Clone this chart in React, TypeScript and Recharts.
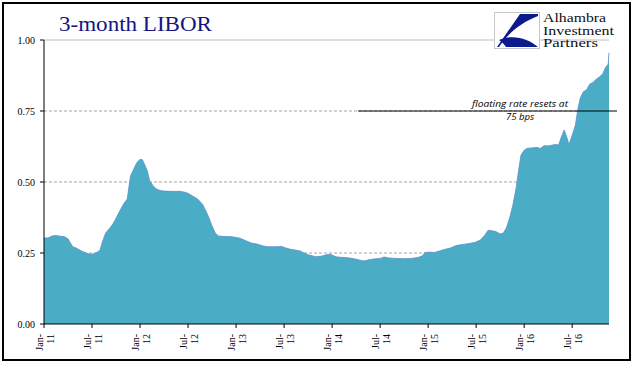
import React from "react";
import { AreaChart, Area, XAxis, YAxis, CartesianGrid, ReferenceLine } from "recharts";

// months elapsed since 1 Jan 2011
const months: number[] = [
  0, 0.5, 1.0, 1.5, 2.0, 2.5, 3.0, 3.3, 3.6, 4.0, 4.5, 5.0, 5.5, 6.0, 6.5, 7.0, 7.3, 7.7, 8.2, 8.6,
  9.0, 9.5, 10.0, 10.4, 10.6, 10.8, 11.2, 11.6, 12.0, 12.3, 12.6, 12.9, 13.2, 13.6, 14.0, 14.5, 15.0, 16.0, 17.0, 17.6,
  18.0, 18.6, 19.2, 19.8, 20.2, 20.6, 21.0, 21.4, 21.8, 22.5, 23.0, 23.5, 24.0, 24.5, 25.0, 25.5, 26.0, 26.6, 27.0, 27.5,
  28.0, 29.0, 29.7, 30.2, 30.8, 31.5, 32.0, 32.5, 33.0, 33.5, 34.0, 34.7, 35.3, 35.8, 36.2, 36.6, 37.5, 38.3, 39.0, 39.6,
  40.0, 40.6, 41.2, 42.0, 42.5, 42.8, 43.2, 44.0, 45.0, 46.0, 46.8, 47.3, 47.6, 48.2, 48.8, 49.5, 50.0, 50.8, 51.5, 52.3,
  53.0, 53.8, 54.5, 55.0, 55.5, 56.0, 56.5, 57.0, 57.4, 57.8, 58.2, 58.6, 59.0, 59.3, 59.6, 60.0, 60.4, 61.0, 61.6, 62.0,
  62.5, 63.0, 63.5, 64.0, 64.3, 64.6, 65.0, 65.3, 65.6, 66.0, 66.4, 66.7, 67.0, 67.4, 67.8, 68.2, 68.6, 69.0, 69.4, 69.8,
  70.2, 70.5, 70.6,
];

// 3-month LIBOR, percent
const libor: number[] = [
  0.303, 0.303, 0.310, 0.312, 0.309, 0.308, 0.300, 0.285, 0.272, 0.268, 0.260, 0.253, 0.247, 0.246, 0.250, 0.260, 0.290, 0.320, 0.337, 0.352,
  0.372, 0.400, 0.425, 0.440, 0.480, 0.520, 0.545, 0.568, 0.580, 0.578, 0.560, 0.540, 0.505, 0.488, 0.476, 0.470, 0.468, 0.467, 0.467, 0.464,
  0.460, 0.450, 0.440, 0.422, 0.400, 0.375, 0.345, 0.320, 0.310, 0.308, 0.308, 0.307, 0.305, 0.302, 0.296, 0.290, 0.284, 0.282, 0.278, 0.274,
  0.272, 0.272, 0.273, 0.268, 0.263, 0.260, 0.257, 0.250, 0.244, 0.240, 0.237, 0.239, 0.244, 0.246, 0.240, 0.236, 0.234, 0.232, 0.228, 0.224,
  0.222, 0.226, 0.229, 0.231, 0.236, 0.234, 0.232, 0.231, 0.230, 0.231, 0.235, 0.240, 0.252, 0.253, 0.252, 0.258, 0.262, 0.268, 0.276, 0.280,
  0.283, 0.287, 0.295, 0.310, 0.330, 0.328, 0.325, 0.317, 0.320, 0.340, 0.375, 0.420, 0.480, 0.540, 0.595, 0.612, 0.619, 0.620, 0.622, 0.618,
  0.628, 0.627, 0.630, 0.632, 0.630, 0.655, 0.683, 0.660, 0.632, 0.665, 0.700, 0.755, 0.795, 0.818, 0.825, 0.845, 0.850, 0.862, 0.870, 0.880,
  0.905, 0.915, 0.955,
];

const tickMonths: number[] = [0, 6, 12, 18, 24, 30, 36, 42, 48, 54, 60, 66];
const tickMonthNames: string[] = ["Jan-", "Jul-", "Jan-", "Jul-", "Jan-", "Jul-", "Jan-", "Jul-", "Jan-", "Jul-", "Jan-", "Jul-"];
const tickYears: string[] = ["11", "11", "12", "12", "13", "13", "14", "14", "15", "15", "16", "16"];
const yTicks: number[] = [0, 0.25, 0.5, 0.75, 1.0];
const dashedGrid: number[] = [0.25, 0.5, 0.75];

const data = months.map((m, i) => ({ m, v: libor[i] }));

const SERIF = "'Liberation Serif', 'Times New Roman', serif";

const XTick = (props: any) => {
  const { x, y, payload } = props;
  const idx = tickMonths.indexOf(payload.value);
  return (
    <g transform={`translate(${x},${y})`}>
      <text transform="rotate(-90)" textAnchor="end" fontFamily={SERIF} fontSize={10} fill="#000">
        <tspan x={-4} y={-1}>{tickMonthNames[idx]}</tspan>
        <tspan x={-4} y={10}>{tickYears[idx]}</tspan>
      </text>
    </g>
  );
};

export default function App() {
  return (
    <div style={{ position: "absolute", left: 0, top: 0, width: 641, height: 375, background: "#fff" }}>
      <AreaChart width={641} height={375} data={data} margin={{ top: 40, right: 32, bottom: 21, left: 0 }}>
        <CartesianGrid vertical={false} stroke="#a6a6a6" strokeDasharray="3 2" horizontalValues={dashedGrid} />
        <XAxis
          type="number"
          dataKey="m"
          domain={[0, 70.6]}
          ticks={tickMonths}
          tick={<XTick />}
          height={30}
          stroke="#000"
          tickSize={4}
          interval={0}
        />
        <YAxis
          type="number"
          domain={[0, 1]}
          ticks={yTicks}
          width={44}
          stroke="#000"
          tickSize={4}
          tickMargin={5}
          tickFormatter={(v: number) => v.toFixed(2)}
          tick={{ fontFamily: SERIF, fontSize: 10, fill: "#000" }}
        />
        <ReferenceLine y={1} stroke="#bfbfbf" strokeWidth={1} />
        <Area
          type="linear"
          dataKey="v"
          stroke="#5b8fd0"
          strokeWidth={0.8}
          fill="#4bacc6"
          fillOpacity={1}
          isAnimationActive={false}
        />
        <ReferenceLine
          segment={[{ x: 39.25, y: 0.75 }, { x: 71.6, y: 0.75 }]}
          ifOverflow="visible"
          stroke="#000"
          strokeWidth={1}
        />
      </AreaChart>
      <svg width={641} height={375} style={{ position: "absolute", left: 0, top: 0, pointerEvents: "none" }}>
        <rect x={3} y={3} width={627} height={357} fill="none" stroke="#000" strokeWidth={2} />
        <text x={59} y={31} fontFamily={SERIF} fontSize={22} fill="#141483" textLength={153} lengthAdjust="spacingAndGlyphs">
          3-month LIBOR
        </text>
        <g>
          <rect x={494.5} y={12.5} width={45} height={36} fill="#fff" stroke="#c8c8c8" strokeWidth={1} />
          <path d="M520,14 L538,14 L538,16 C522,22 508,33 499,47 L497,47 Z" fill="#0c1a8c" />
          <path d="M499,40 C512,34 528,38 538,47 L506,47 C504,44 502,42 499,40 Z" fill="#0c1a8c" />
          <text x={543} y={22} fontFamily={SERIF} fontSize={12} fill="#111" textLength={63} lengthAdjust="spacingAndGlyphs">Alhambra</text>
          <text x={543} y={34.5} fontFamily={SERIF} fontSize={12} fill="#111" textLength={71} lengthAdjust="spacingAndGlyphs">Investment</text>
          <text x={543} y={47} fontFamily={SERIF} fontSize={12} fill="#111" textLength={55} lengthAdjust="spacingAndGlyphs">Partners</text>
        </g>
        <text x={520} y={107} textAnchor="middle" fontFamily="'Open Sans', 'Liberation Sans', sans-serif" fontStyle="italic" fontSize={9.5} fill="#000" textLength={96} lengthAdjust="spacingAndGlyphs">
          floating rate resets at
        </text>
        <text x={520} y={120} textAnchor="middle" fontFamily="'Open Sans', 'Liberation Sans', sans-serif" fontStyle="italic" fontSize={9.5} fill="#000">
          75 bps
        </text>
      </svg>
    </div>
  );
}
